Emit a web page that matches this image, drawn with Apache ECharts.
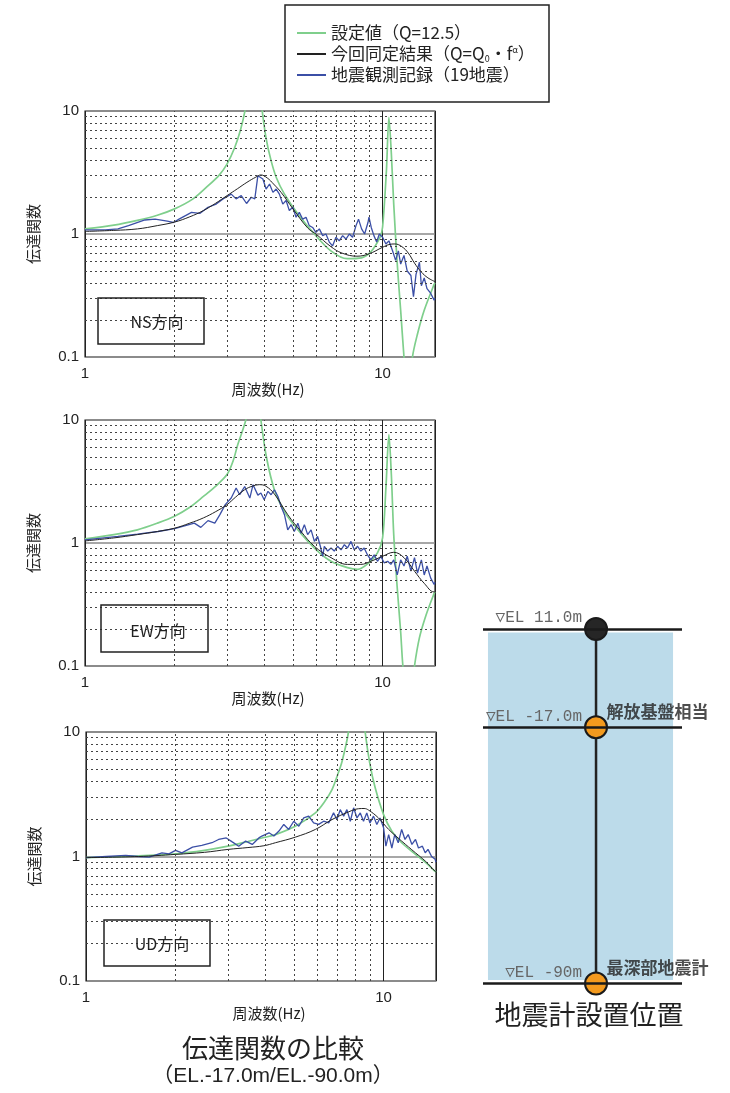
<!DOCTYPE html>
<html>
<head>
<meta charset="utf-8">
<script src="https://cdn.jsdelivr.net/npm/echarts@6.0.0/dist/echarts.min.js"></script>
<style>
html,body{margin:0;padding:0;background:#fff;}
#c{width:730px;height:1093px;}
</style>
</head>
<body>
<div id="c"></div>
<script>
// ---------- data ----------
const xTicks = [1, 10];
const yTicks = [0.1, 1, 10];
const xMinor = [2, 3, 4, 5, 6, 7, 8, 9];
const yMinor = [0.2, 0.3, 0.4, 0.5, 0.6, 0.7, 0.8, 0.9, 2, 3, 4, 5, 6, 7, 8, 9];
const seriesNames = ['設定値（Q=12.5）', '今回同定結果（Q=Q0・fα）', '地震観測記録（19地震）'];
const panelNames = ['NS方向', 'EW方向', 'UD方向'];

const nsDesign = [[1,1.1],[1.25,1.18],[1.5,1.29],[1.75,1.42],[2,1.6],[2.3,1.92],[2.55,2.38],[2.82,3.0],[3.0,3.7],[3.18,5.0],[3.33,7.0],[3.46,10.5],[3.58,18],[3.68,60],[3.8,20],[3.93,10.5],[4.06,6.0],[4.22,3.95],[4.4,2.85],[4.68,2.11],[5.2,1.45],[5.9,1.0],[6.7,0.73],[7.6,0.63],[8.5,0.64],[9.1,0.71],[9.8,0.94],[10,1.14],[10.3,3.27],[10.5,8.9],[10.7,4.5],[10.9,1.75],[11.2,0.57],[11.5,0.24],[11.8,0.1],[12.2,0.04],[12.6,0.1],[13.1,0.154],[13.8,0.24],[14.9,0.39],[15,0.4]];
const nsIdentified = [[1,1.05],[1.25,1.07],[1.5,1.1],[1.75,1.17],[2,1.25],[2.25,1.38],[2.5,1.55],[2.75,1.78],[3,2.05],[3.25,2.33],[3.5,2.63],[3.75,2.9],[3.9,3.02],[4.1,2.85],[4.3,2.55],[4.56,2.18],[5,1.6],[5.6,1.12],[6,0.99],[6.7,0.79],[7.3,0.7],[8.2,0.66],[9,0.69],[10,0.78],[10.5,0.82],[11,0.83],[11.6,0.79],[12.2,0.7],[12.8,0.58],[13.5,0.49],[14.2,0.44],[15,0.41]];
const nsObserved = [[1,1.08],[1.17,1.08],[1.29,1.1],[1.4,1.17],[1.59,1.3],[1.72,1.32],[1.89,1.27],[1.98,1.24],[2.07,1.32],[2.28,1.5],[2.43,1.47],[2.59,1.65],[2.76,1.75],[2.91,1.93],[3.1,2.11],[3.22,1.93],[3.35,2.05],[3.49,1.77],[3.62,1.99],[3.72,1.93],[3.81,2.98],[3.96,2.8],[4.06,2.32],[4.17,2.55],[4.28,2.18],[4.39,2.32],[4.5,2.11],[4.62,1.75],[4.74,1.87],[4.86,1.55],[4.99,1.65],[5.12,1.37],[5.25,1.5],[5.39,1.32],[5.53,1.37],[5.67,1.17],[5.82,1.13],[5.97,1.03],[6.13,1.1],[6.29,0.97],[6.45,1.0],[6.62,0.86],[6.79,0.8],[6.97,0.94],[7.15,0.88],[7.34,0.97],[7.53,0.91],[7.73,1.0],[7.93,0.94],[8.14,1.17],[8.3,1.32],[8.5,1.1],[8.7,1.0],[8.93,1.24],[9.0,1.37],[9.16,1.13],[9.35,0.97],[9.55,0.86],[9.75,1.0],[10,0.94],[10.26,0.83],[10.5,0.88],[10.8,0.73],[11.06,0.61],[11.3,0.73],[11.5,0.57],[11.8,0.67],[12.1,0.5],[12.45,0.46],[12.7,0.31],[12.95,0.47],[13.3,0.59],[13.5,0.38],[13.8,0.44],[14.1,0.36],[14.5,0.33],[14.9,0.29],[15,0.3]];

const ewDesign = [[1,1.08],[1.25,1.17],[1.5,1.28],[1.75,1.45],[2,1.65],[2.25,1.95],[2.5,2.39],[2.75,2.9],[3,3.6],[3.15,4.7],[3.26,6.3],[3.47,10],[3.58,16],[3.7,60],[3.8,18],[3.9,10],[4.07,5.0],[4.33,2.7],[4.68,1.8],[5.19,1.28],[5.9,0.91],[6.71,0.71],[7.62,0.63],[8.24,0.61],[9.0,0.69],[9.61,0.83],[10,1.1],[10.26,2.8],[10.5,7.6],[10.7,3.6],[10.9,1.17],[11.2,0.43],[11.5,0.19],[11.7,0.1],[12.2,0.04],[12.8,0.1],[13.3,0.17],[14,0.26],[14.9,0.39],[15,0.4]];
const ewIdentified = [[1,1.04],[1.25,1.1],[1.5,1.17],[1.75,1.24],[2,1.32],[2.25,1.45],[2.5,1.6],[2.75,1.8],[3,2.05],[3.2,2.35],[3.44,2.71],[3.65,2.9],[3.85,2.98],[4.05,2.9],[4.33,2.5],[4.8,1.7],[5.32,1.24],[5.9,0.94],[6.71,0.76],[7.62,0.67],[8.45,0.67],[9.13,0.71],[10,0.78],[10.9,0.84],[11.8,0.76],[12.8,0.59],[13.8,0.47],[14.9,0.4],[15,0.4]];
const ewObserved = [[1,1.06],[1.29,1.13],[1.5,1.18],[1.76,1.24],[2,1.31],[2.16,1.38],[2.33,1.45],[2.45,1.34],[2.59,1.52],[2.73,1.45],[2.84,1.7],[2.96,2.05],[3.1,2.32],[3.22,2.8],[3.31,2.47],[3.44,2.88],[3.58,2.32],[3.67,2.98],[3.81,2.45],[3.9,2.55],[4.0,2.25],[4.12,2.63],[4.22,2.47],[4.33,2.71],[4.45,2.39],[4.56,1.98],[4.68,1.7],[4.8,1.28],[4.93,1.41],[5.05,1.24],[5.19,1.45],[5.32,1.2],[5.46,1.41],[5.6,1.17],[5.75,1.28],[5.9,1.03],[6.05,1.13],[6.2,0.91],[6.29,0.78],[6.37,0.94],[6.54,0.86],[6.71,0.91],[6.88,0.86],[7.06,0.94],[7.25,0.88],[7.44,0.97],[7.62,0.91],[7.83,1.03],[8.03,0.88],[8.24,0.94],[8.45,0.86],[8.67,0.91],[8.9,0.8],[9.13,0.73],[9.37,0.8],[9.61,0.71],[9.86,0.78],[10.12,0.69],[10.4,0.71],[10.66,0.67],[10.9,0.73],[11.2,0.55],[11.5,0.73],[11.8,0.65],[12.1,0.78],[12.45,0.59],[12.8,0.76],[13.1,0.57],[13.5,0.73],[13.8,0.55],[14.1,0.65],[14.5,0.52],[14.9,0.46],[15,0.48]];

const udDesign = [[1,0.98],[1.5,1.01],[2,1.05],[2.5,1.12],[3,1.21],[3.5,1.32],[3.96,1.42],[4.33,1.5],[5.05,1.75],[5.9,2.24],[6.3,2.7],[6.71,3.45],[7.0,4.5],[7.25,5.8],[7.62,10],[7.85,20],[8.1,60],[8.4,20],[8.67,10],[9.0,5.5],[9.37,3.56],[10,2.17],[10.66,1.6],[11.5,1.29],[12.8,1.04],[13.8,0.9],[14.9,0.76],[15,0.75]];
const udIdentified = [[1,0.98],[1.5,1.0],[2,1.04],[2.5,1.08],[3,1.14],[3.5,1.18],[3.96,1.22],[4.33,1.29],[5.05,1.43],[5.9,1.65],[6.71,1.98],[7.62,2.28],[8.24,2.42],[8.6,2.43],[8.9,2.36],[9.61,2.04],[10.4,1.65],[11.5,1.33],[12.8,1.07],[13.8,0.92],[14.9,0.76],[15,0.75]];
const udObserved = [[1,0.98],[1.17,1.0],[1.36,1.02],[1.5,1.0],[1.63,0.99],[1.8,1.07],[1.9,1.05],[2.0,1.12],[2.1,1.07],[2.28,1.19],[2.45,1.23],[2.65,1.29],[2.79,1.37],[2.96,1.41],[3.1,1.31],[3.26,1.21],[3.44,1.33],[3.62,1.25],[3.81,1.41],[3.9,1.46],[4.12,1.55],[4.28,1.46],[4.45,1.6],[4.62,1.81],[4.8,1.65],[4.99,1.92],[5.19,1.75],[5.39,2.04],[5.6,2.11],[5.82,1.86],[6.05,1.81],[6.29,1.92],[6.54,1.86],[6.79,2.24],[6.97,1.98],[7.15,2.38],[7.34,2.11],[7.53,2.38],[7.73,1.92],[7.93,2.46],[8.14,2.04],[8.35,2.24],[8.56,1.92],[8.78,2.24],[9.0,1.86],[9.25,2.11],[9.49,1.81],[9.73,2.04],[10.0,1.7],[10.18,1.21],[10.4,1.5],[10.66,1.17],[10.9,1.5],[11.2,1.29],[11.5,1.65],[11.8,1.37],[12.1,1.5],[12.45,1.25],[12.8,1.37],[13.1,1.17],[13.5,1.21],[13.8,1.07],[14.1,1.14],[14.5,1.0],[14.9,0.95],[15,0.9]];

const elevations = [11, -17, -90];
const elevLabels = ['▽EL 11.0m', '▽EL -17.0m', '▽EL -90m'];
const pointNotes = ['', '解放基盤相当', '最深部地震計'];

// ---------- layout / style ----------
const FONT = "'Liberation Sans','Noto Sans CJK JP',sans-serif";
const CJK = "'Noto Sans CJK JP','Liberation Sans',sans-serif";
const grids = [
  {left: 85, top: 111, width: 350, height: 246},
  {left: 85, top: 420, width: 350, height: 246},
  {left: 86, top: 732, width: 350, height: 249}
];
const panelBoxes = [
  {x: 98, y: 298, w: 106, h: 46, tx: 157, ty: 322},
  {x: 101, y: 605, w: 107, h: 47, tx: 158, ty: 631},
  {x: 104, y: 920, w: 106, h: 46, tx: 162, ty: 944}
];
const panelData = [
  [nsDesign, nsIdentified, nsObserved],
  [ewDesign, ewIdentified, ewObserved],
  [udDesign, udIdentified, udObserved]
];
const COLORS = ['#7fcf8c', '#222222', '#3b4fa6'];
const shaftX = 0.568;
const pointColors = ['#262626', '#f39a1e', '#f39a1e'];

function tickFmt(ticks) {
  return function (v) {
    for (const t of ticks) if (Math.abs(v - t) / t < 1e-6) return String(t);
    return '';
  };
}

const gridOpts = grids.map(g => Object.assign({show: true, borderColor: '#222', borderWidth: 1.2, backgroundColor: 'transparent'}, g));
gridOpts.push({left: 483, right: 48, top: 597.4, height: 421.2});

const xAxes = [], yAxes = [], series = [], graphics = [];
grids.forEach((g, i) => {
  xAxes.push({
    type: 'log', logBase: 10, min: 1, max: 15, gridIndex: i,
    axisLine: {show: false}, axisTick: {show: false},
    axisLabel: {formatter: tickFmt(xTicks), fontSize: 15, color: '#222', margin: 9, fontFamily: FONT},
    splitLine: {show: true, lineStyle: {color: '#222', width: 1}},
    name: '周波数(Hz)', nameLocation: 'middle', nameGap: 24,
    nameTextStyle: {fontSize: 15, color: '#222', fontFamily: CJK, padding: [0, 0, 0, 16]}
  });
  yAxes.push({
    type: 'log', logBase: 10, min: 0.1, max: 10, gridIndex: i,
    axisLine: {show: false}, axisTick: {show: false},
    axisLabel: {formatter: tickFmt(yTicks), fontSize: 15, color: '#222', margin: 6, fontFamily: FONT},
    splitLine: {show: true, lineStyle: {color: '#8a8a8a', width: 1.5}},
    name: '伝達関数', nameLocation: 'middle', nameGap: 44, nameRotate: 90,
    nameTextStyle: {fontSize: 15, color: '#222', fontFamily: CJK}
  });
  const d = panelData[i];
  series.push({
    name: seriesNames[0], type: 'line', xAxisIndex: i, yAxisIndex: i, data: d[0],
    showSymbol: false, smooth: 0.3, z: 2,
    lineStyle: {color: COLORS[0], width: 1.7}, itemStyle: {color: COLORS[0]},
    markLine: {
      silent: true, symbol: ['none', 'none'], label: {show: false}, animation: false,
      lineStyle: {type: [2, 3], color: '#444', width: 1},
      emphasis: {disabled: true},
      data: xMinor.map(v => ({xAxis: v})).concat(yMinor.map(v => ({yAxis: v})))
    }
  });
  series.push({
    name: seriesNames[2], type: 'line', xAxisIndex: i, yAxisIndex: i, data: d[2],
    showSymbol: false, z: 3,
    lineStyle: {color: COLORS[2], width: 1.3}, itemStyle: {color: COLORS[2]}
  });
  series.push({
    name: seriesNames[1], type: 'line', xAxisIndex: i, yAxisIndex: i, data: d[1],
    showSymbol: false, smooth: 0.4, z: 4,
    lineStyle: {color: COLORS[1], width: 1}, itemStyle: {color: COLORS[1]}
  });
  const b = panelBoxes[i];
  graphics.push({type: 'rect', shape: {x: b.x, y: b.y, width: b.w, height: b.h}, style: {fill: 'none', stroke: '#222', lineWidth: 1.5}, z: 10});
  graphics.push({type: 'text', x: b.tx, y: b.ty, style: {text: panelNames[i], font: "16px " + CJK, fill: '#222', textAlign: 'center', textVerticalAlign: 'middle'}, z: 10});
});

// diagram axes
xAxes.push({type: 'value', gridIndex: 3, min: 0, max: 1, show: false});
yAxes.push({type: 'value', gridIndex: 3, min: -100, max: 20, show: false});
series.push({
  type: 'line', xAxisIndex: 3, yAxisIndex: 3, data: [], z: 1, silent: true,
  markArea: {silent: true, itemStyle: {color: '#bcdbea', opacity: 1},
    data: [[{xAxis: 0.025, yAxis: 10}, {xAxis: 0.955, yAxis: -89}]]}
});
series.push({
  type: 'line', xAxisIndex: 3, yAxisIndex: 3, z: 2, silent: true, showSymbol: false,
  data: [[shaftX, elevations[0]], [shaftX, elevations[elevations.length - 1]]],
  lineStyle: {color: '#222', width: 2.5},
  markLine: {silent: true, symbol: ['none', 'none'], label: {show: false}, animation: false,
    lineStyle: {type: 'solid', color: '#1a1a1a', width: 2.5},
    data: elevations.map(e => ({yAxis: e}))}
});
series.push({
  type: 'scatter', xAxisIndex: 3, yAxisIndex: 3, z: 3, silent: true,
  symbolSize: 22,
  data: elevations.map((e, i) => ({value: [shaftX, e], itemStyle: {color: pointColors[i]}})),
  itemStyle: {borderColor: '#1a1a1a', borderWidth: 2, opacity: 1},
  label: {show: true, position: 'left', distance: 2, offset: [0, -11],
    formatter: p => elevLabels[p.dataIndex],
    fontFamily: "'Liberation Mono','DejaVu Sans Mono',monospace", fontSize: 16, color: '#666'}
});
series.push({
  type: 'scatter', xAxisIndex: 3, yAxisIndex: 3, z: 4, silent: true,
  symbolSize: 1,
  data: elevations.map(e => [shaftX, e]),
  itemStyle: {color: 'rgba(0,0,0,0)'},
  label: {show: true, position: 'right', distance: 10, offset: [0, -16],
    formatter: p => pointNotes[p.dataIndex],
    fontFamily: CJK, fontSize: 17, fontWeight: 'bold', color: '#222'}
});

// titles and legend frame
graphics.push({type: 'rect', shape: {x: 285, y: 5, width: 264, height: 97}, style: {fill: '#fff', stroke: '#222', lineWidth: 1.5}, z: -1});
graphics.push({type: 'text', x: 273, y: 1048, style: {text: '伝達関数の比較', font: "26px " + CJK, fill: '#222', textAlign: 'center', textVerticalAlign: 'middle'}});
graphics.push({type: 'text', x: 273, y: 1076, style: {text: '（EL.-17.0m/EL.-90.0m）', font: "21px " + FONT, fill: '#222', textAlign: 'center', textVerticalAlign: 'middle'}});
graphics.push({type: 'text', x: 589, y: 1015, style: {text: '地震計設置位置', font: "27px " + CJK, fill: '#222', textAlign: 'center', textVerticalAlign: 'middle'}});

const chart = echarts.init(document.getElementById('c'), null, {renderer: 'canvas'});
chart.setOption({
  animation: false,
  backgroundColor: '#fff',
  textStyle: {fontFamily: FONT},
  legend: {
    data: seriesNames, orient: 'vertical', left: 297, top: 24, padding: 0,
    itemGap: 3, itemWidth: 29, itemHeight: 2, icon: 'rect',
    selectedMode: false,
    formatter: n => n === seriesNames[1] ? '今回同定結果（Q=Q{sub|0}・f{sup|α}）' : n,
    textStyle: {fontSize: 17, color: '#222', fontFamily: CJK, lineHeight: 18,
      rich: {
        sub: {fontSize: 9, verticalAlign: 'bottom', lineHeight: 18, fontFamily: CJK, color: '#222', padding: [6, 0, 0, 0]},
        sup: {fontSize: 9, verticalAlign: 'top', lineHeight: 18, fontFamily: CJK, color: '#222', padding: [0, 0, 6, 0]}
      }}
  },
  grid: gridOpts,
  xAxis: xAxes,
  yAxis: yAxes,
  series: series,
  graphic: graphics
});
</script>
</body>
</html>
